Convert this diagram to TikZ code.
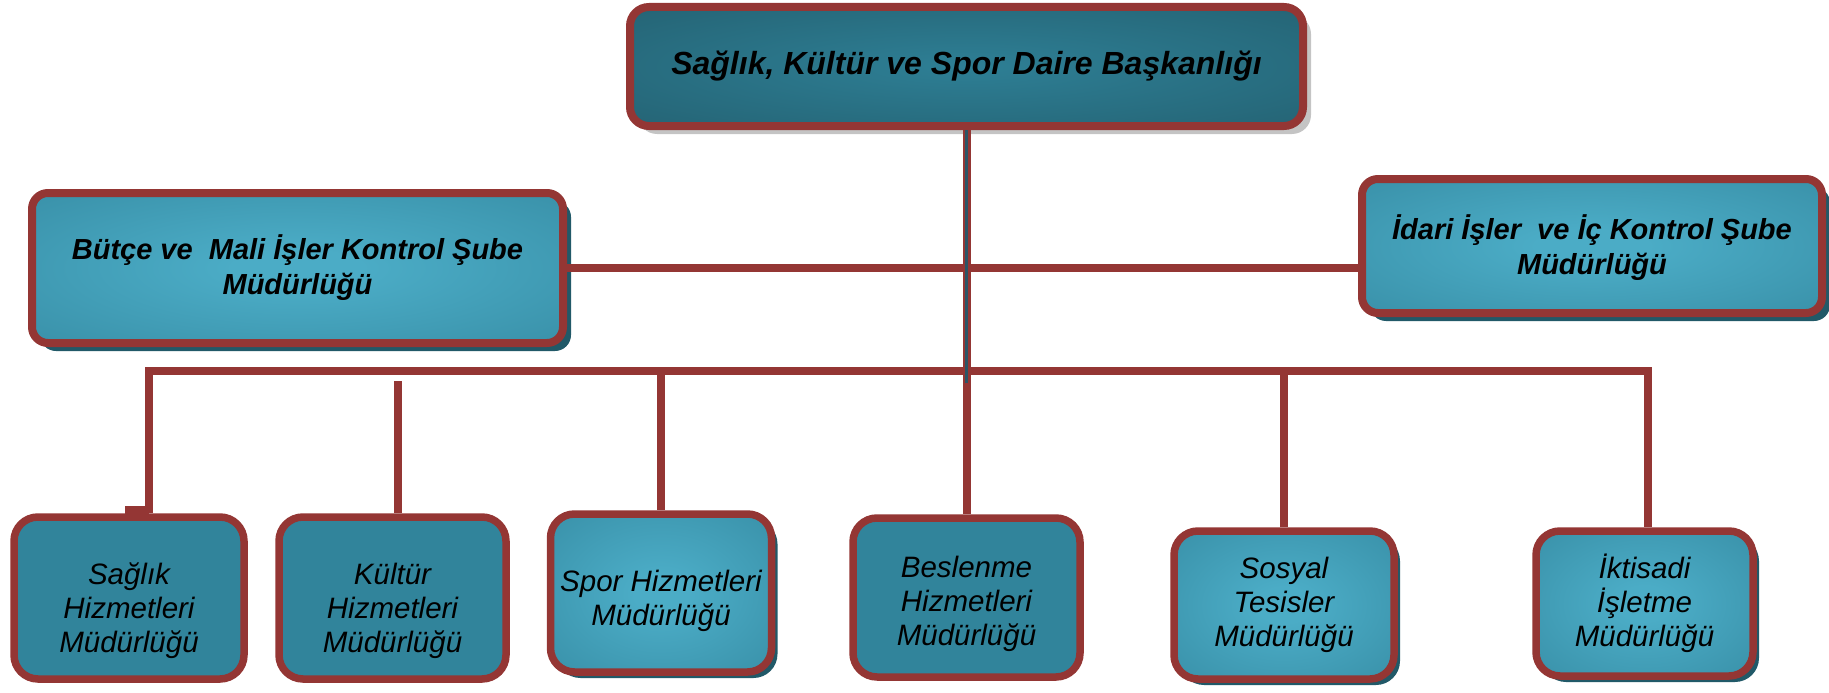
\documentclass[tikz,border=0pt]{standalone}
\usepackage{fontspec}
\setmainfont{Liberation Sans}
\usetikzlibrary{shadows}

\definecolor{linkred}{HTML}{943634}
\definecolor{tealmid}{HTML}{31849B}
\definecolor{teallight}{HTML}{4BACC6}
\definecolor{tealdark}{HTML}{215968}
\definecolor{headmid}{HTML}{2E7F95}
\definecolor{shadeteal}{HTML}{215968}
\definecolor{shadegray}{HTML}{C4C4C4}
\definecolor{trunkline}{HTML}{2B5566}

\pgfdeclareradialshading{unitglow}{\pgfpointorigin}{color(0bp)=(teallight); color(6bp)=(teallight); color(50bp)=(tealmid)}
\pgfdeclareradialshading{headglow}{\pgfpointorigin}{color(0bp)=(headmid); color(50bp)=(tealdark)}

\begin{document}
\begin{tikzpicture}[x=1pt, y=-1pt,
  box/.style={draw=linkred, line width=8pt, inner sep=0pt, align=center, text=black},
  head/.style={box, rounded corners=19pt, shading=headglow,
    font=\fontsize{32}{38}\selectfont\bfseries\itshape,
    drop shadow={shadow xshift=8pt, shadow yshift=-8pt, fill=shadegray, opacity=1}},
  side/.style={box, rounded corners=16pt, shading=unitglow,
    font=\fontsize{29}{35}\selectfont\bfseries\itshape,
    drop shadow={shadow xshift=8pt, shadow yshift=-8pt, fill=shadeteal, opacity=1}},
  unit/.style={box, line width=7.5pt, rounded corners=24pt, fill=tealmid,
    font=\fontsize{29.5}{34}\selectfont\itshape},
  glowunit/.style={unit, shading=unitglow,
    drop shadow={shadow xshift=6pt, shadow yshift=-6pt, fill=shadeteal, opacity=1}},
  link/.style={draw=linkred, line width=8pt}]
  \useasboundingbox (0,0) rectangle (1829,693);

  % top
  \node[head, minimum width=673pt, minimum height=119pt] (daire) at (966.5,66.5)
    {Sağlık, Kültür ve Spor Daire Başkanlığı};

  % middle row
  \node[side, minimum width=531pt, minimum height=150pt] (butce) at (297.5,268)
    {Bütçe ve\ \ Mali İşler Kontrol Şube\\Müdürlüğü};
  \node[side, minimum width=460pt, minimum height=134pt] (idari) at (1592,246)
    {\rule{0pt}{28pt}İdari İşler\ \ ve İç Kontrol Şube\\Müdürlüğü};

  % bottom row
  \node[unit, minimum width=230pt, minimum height=162pt] (saglik) at (129,598)
    {\rule{0pt}{48pt}Sağlık\\Hizmetleri\\Müdürlüğü};
  \node[unit, minimum width=227pt, minimum height=162pt] (kultur) at (392.5,598)
    {\rule{0pt}{48pt}Kültür\\Hizmetleri\\Müdürlüğü};
  \node[glowunit, minimum width=221pt, minimum height=158pt] (spor) at (661,593)
    {\rule{0pt}{38pt}Spor Hizmetleri\\Müdürlüğü};
  \node[unit, minimum width=227pt, minimum height=159pt] (beslenme) at (966.5,597.5)
    {\rule{0pt}{35pt}Beslenme\\Hizmetleri\\Müdürlüğü};
  \node[glowunit, minimum width=220pt, minimum height=148pt] (sosyal) at (1284,605)
    {Sosyal\\Tesisler\\Müdürlüğü};
  \node[glowunit, minimum width=217pt, minimum height=145pt] (iktisadi) at (1644.5,603.5)
    {İktisadi\\İşletme\\Müdürlüğü};

  % connectors
  \coordinate (busL) at (149,371);
  \coordinate (busR) at (1648,371);
  \coordinate (kTop) at (398,381);
  \coordinate (trunkEnd) at (966.5,383);

  \draw[link] (butce.east) -- (butce.east -| idari.west);
  \draw[link] (saglik.north -| busL) -- (busL) -- (busR) -- (iktisadi.north -| busR);
  \fill[linkred] (125,506) rectangle (149,517);
  \draw[link] (kTop) -- (kultur.north -| kTop);
  \draw[link] (spor.north |- busL) -- (spor.north);
  \draw[link] (sosyal.north |- busL) -- (sosyal.north);
  \draw[link] (daire.south) -- (beslenme.north);
  \draw[trunkline, line width=2.5pt] (daire.south) -- (trunkEnd);
\end{tikzpicture}
\end{document}
